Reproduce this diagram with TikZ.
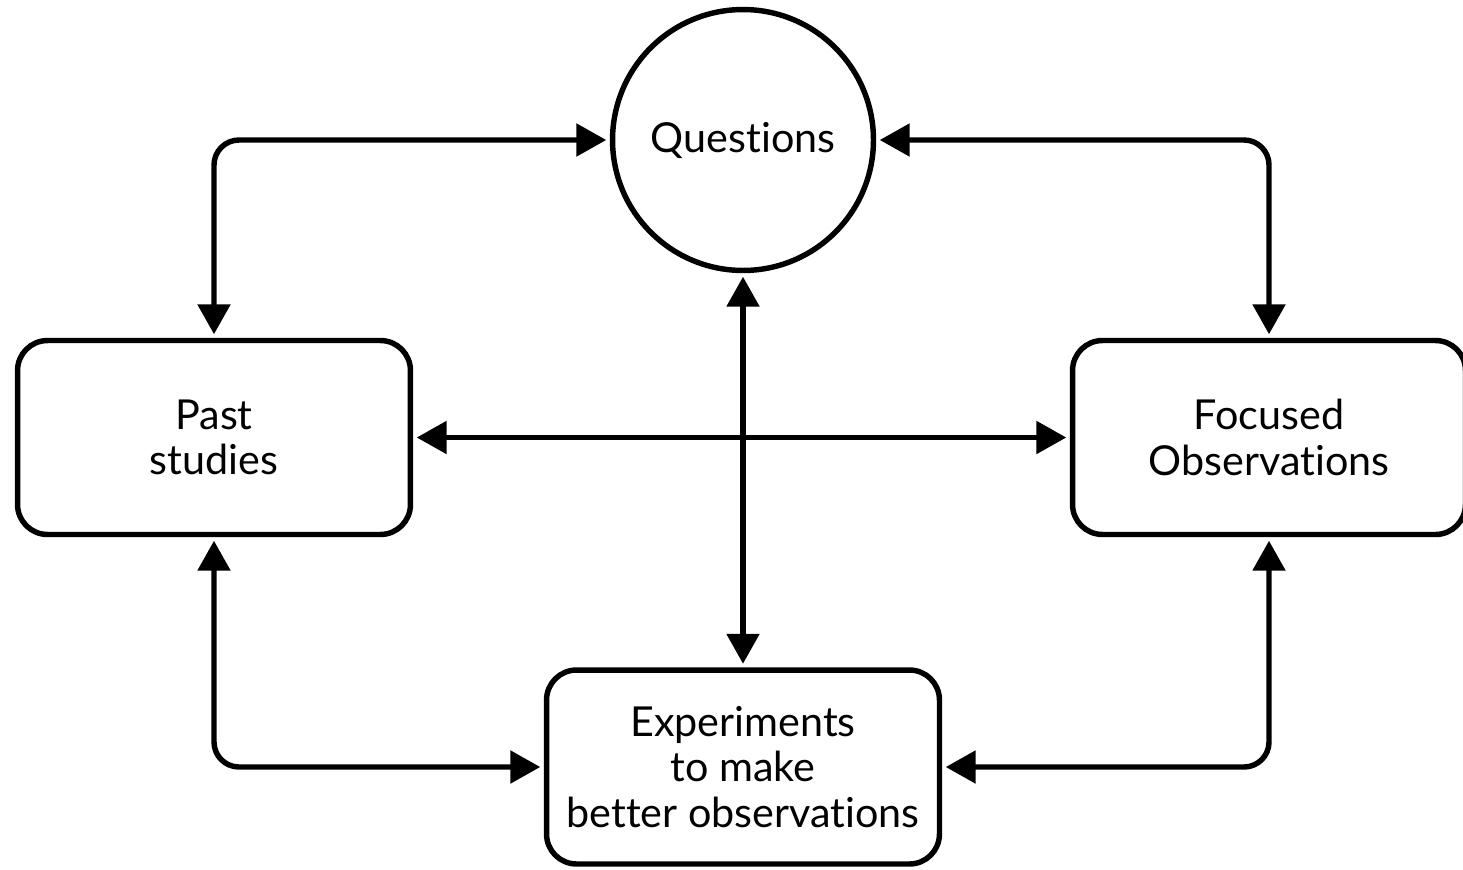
\documentclass[tikz,border=0pt]{standalone}
\usepackage{fontspec}
\setmainfont{Lato}[Ligatures={NoCommon}]
\usetikzlibrary{arrows.meta}
\tikzset{
  txt/.style={font=\fontsize{23.5}{26}\selectfont},
  boxnode/.style={draw, line width=3.1pt, rounded corners=0.6cm, minimum width=7.86cm, minimum height=3.88cm, align=center, txt, inner sep=0pt},
  circnode/.style={draw, circle, line width=3.1pt, minimum size=5.22cm, align=center, txt, inner sep=0pt},
  conn/.style={line width=3.1pt, rounded corners=0.5cm, {Triangle[length=0.6cm,width=0.64cm]}-{Triangle[length=0.6cm,width=0.64cm]}, shorten <=2pt, shorten >=2pt}
}
\begin{document}
\begin{tikzpicture}[x=0.02cm,y=-0.02cm]
\useasboundingbox (0,0) rectangle (1463,869);
\fill[white] (0,0) rectangle (1463,869);
\node[circnode] (q) at (743,140) {\raisebox{-4pt}{Questions}};
\node[boxnode] (past) at (214,437.5) {Past\\studies};
\node[boxnode] (foc) at (1269,437.5) {Focused\\Observations};
\node[boxnode] (exp) at (743,767) {Experiments\\to make\\better observations};
\draw[conn] (past.north) |- (q.west);
\draw[conn] (q.east) -| (foc.north);
\draw[conn] (q.south) -- (exp.north);
\draw[conn] (past.east) -- (foc.west);
\draw[conn] (past.south) |- (exp.west);
\draw[conn] (foc.south) |- (exp.east);
\end{tikzpicture}
\end{document}
